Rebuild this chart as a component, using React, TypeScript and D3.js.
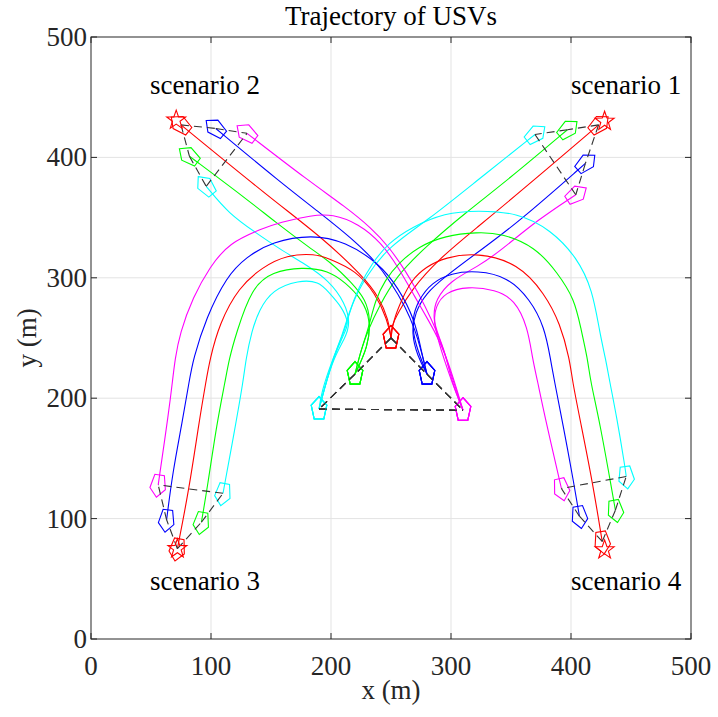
import * as d3 from "d3";

const WIDTH = 718;
const HEIGHT = 717;

const X_TICKS = [0, 100, 200, 300, 400, 500];
const Y_TICKS = [0, 100, 200, 300, 400, 500];

const COLORS: Record<string, string> = {
  red: "#ff0000",
  green: "#00ff00",
  blue: "#0000ff",
  cyan: "#00ffff",
  magenta: "#ff00ff",
};
const BOATS = ["red", "green", "blue", "cyan", "magenta"];
const FORMATION_EDGES = [
  ["red", "green"],
  ["green", "cyan"],
  ["red", "blue"],
  ["blue", "magenta"],
  ["cyan", "magenta"],
];

const SCENARIO_NAMES = ["scenario 1", "scenario 2", "scenario 3", "scenario 4"];
const TARGETS = [
  [428, 430],
  [71, 431],
  [72, 75],
  [428, 74],
];

// scenario 1 (to top right)
const s1Red = [[250, 250], [250, 259], [256, 271], [267, 290], [289, 315], [322, 342], [356, 370], [423, 427]];
const s1Green = [[220, 220], [225, 240], [231, 257], [240, 276], [254, 301], [279, 326], [312, 354], [347, 381], [397, 423]];
const s1Blue = [[280, 220], [272, 235], [267, 254], [270, 271], [279, 287], [295, 301], [322, 321], [356, 346], [412, 395]];
const s1Cyan = [[190, 191], [192, 205], [201, 232], [212, 257], [217, 278], [229, 301], [248, 326], [281, 348], [322, 381], [370, 419]];
const s1Magenta = [[310, 190], [300, 215], [289, 248], [285, 267], [287, 282], [300, 298], [322, 309], [342, 323], [372, 348], [404, 369]];

// scenario 2 (to top left)
const s2Red = [[250, 250], [248, 265], [240, 284], [227, 301], [192, 334], [151, 365], [75, 427]];
const s2Green = [[220, 220], [231, 243], [233, 265], [229, 282], [217, 296], [201, 312], [182, 325], [154, 346], [129, 366], [82, 401]];
const s2Blue = [[280, 220], [275, 240], [270, 257], [262, 276], [250, 296], [237, 314], [217, 333], [192, 353], [157, 380], [104, 424]];
const s2Cyan = [[190, 191], [201, 232], [212, 250], [216, 262], [212, 279], [198, 298], [179, 311], [157, 324], [138, 337], [115, 353], [96, 376]];
const s2Magenta = [[310, 190], [300, 220], [292, 246], [284, 265], [273, 287], [262, 306], [248, 326], [234, 341], [212, 359], [182, 380], [130, 420]];

// scenario 3 (to bottom left)
const s3Red = [[250, 250], [247, 265], [237, 287], [221, 306], [198, 316], [187, 320], [163, 319], [143, 309], [123, 292], [107, 262], [99, 232], [96, 215], [90, 180], [82, 126], [72, 75]];
const s3Green = [[220, 220], [231, 243], [233, 265], [226, 282], [212, 296], [198, 306], [176, 309], [151, 305], [134, 292], [121, 254], [115, 232], [112, 215], [105, 180], [97, 126], [92, 97]];
const s3Blue = [[280, 220], [275, 240], [270, 265], [256, 292], [240, 312], [212, 330], [184, 336], [151, 330], [129, 317], [113, 301], [96, 267], [85, 232], [82, 215], [76, 180], [68, 138], [63, 99]];
const s3Cyan = [[190, 191], [201, 232], [212, 256], [215, 262], [209, 276], [198, 288], [190, 297], [173, 298], [151, 290], [140, 273], [134, 256], [129, 232], [127, 215], [120, 175], [110, 121]];
const s3Magenta = [[310, 190], [295, 240], [281, 265], [270, 284], [256, 309], [242, 329], [223, 345], [201, 353], [184, 352], [157, 346], [143, 341], [115, 329], [99, 309], [85, 284], [74, 254], [70, 232], [68, 215], [65, 190], [56, 128]];

// scenario 4 (to bottom right)
const s4Red = [[250, 250], [252, 265], [259, 282], [267, 298], [279, 309], [295, 317], [322, 321], [356, 312], [378, 287], [391, 262], [399, 232], [401, 215], [408, 180], [418, 130], [426, 81]];
const s4Green = [[220, 220], [225, 240], [231, 257], [237, 282], [245, 298], [256, 312], [273, 326], [295, 335], [322, 338], [342, 337], [370, 326], [389, 304], [403, 282], [408, 259], [414, 232], [416, 215], [424, 180], [434, 124], [437, 107]];
const s4Blue = [[280, 220], [270, 245], [267, 265], [273, 282], [284, 296], [300, 304], [322, 306], [347, 301], [366, 282], [378, 259], [383, 232], [386, 215], [393, 180], [403, 126], [407, 102]];
const s4Cyan = [[190, 191], [201, 232], [209, 251], [215, 271], [223, 292], [234, 312], [248, 329], [267, 342], [295, 354], [322, 356], [356, 354], [383, 340], [405, 317], [418, 290], [424, 254], [429, 232], [432, 215], [438, 185], [445, 143], [446, 135]];
const s4Magenta = [[310, 190], [300, 215], [295, 240], [285, 262], [287, 276], [295, 288], [314, 293], [337, 290], [353, 282], [364, 259], [368, 232], [372, 215], [377, 190], [392, 125]];

const SCENARIO_PATHS = [
  { red: s1Red, green: s1Green, blue: s1Blue, cyan: s1Cyan, magenta: s1Magenta },
  { red: s2Red, green: s2Green, blue: s2Blue, cyan: s2Cyan, magenta: s2Magenta },
  { red: s3Red, green: s3Green, blue: s3Blue, cyan: s3Cyan, magenta: s3Magenta },
  { red: s4Red, green: s4Green, blue: s4Blue, cyan: s4Cyan, magenta: s4Magenta },
] as Record<string, number[][]>[];

const LABEL_POS = [
  [446, 453],
  [95, 453],
  [95, 41],
  [446, 41],
];

const FONT = "'Liberation Serif', 'Times New Roman', serif";

const MARGIN = { top: 37, right: 24, bottom: 78, left: 91 };

function boatShape(px: number, py: number, ang: number) {
  const fx = Math.cos(ang);
  const fy = Math.sin(ang);
  const lx = -fy;
  const ly = fx;
  const local = [
    [12.5, 0],
    [3.8, 7.8],
    [-10, 4.8],
    [-10, -4.8],
    [3.8, -7.8],
  ];
  return local.map(([f, l]) => `${px + f * fx + l * lx},${py + f * fy + l * ly}`).join(" ");
}

function starShape(px: number, py: number) {
  const pts: string[] = [];
  for (let i = 0; i < 10; i++) {
    const r = i % 2 === 0 ? 10 : 4;
    const a = -Math.PI / 2 + (i * Math.PI) / 5;
    pts.push(`${px + r * Math.cos(a)},${py + r * Math.sin(a)}`);
  }
  return pts.join(" ");
}

const App = () => {
  const x = d3.scaleLinear().domain([0, 500]).range([MARGIN.left, WIDTH - MARGIN.right - 3]);
  const y = d3.scaleLinear().domain([0, 500]).range([HEIGHT - MARGIN.bottom, MARGIN.top]);
  const x0 = x(0);
  const x1 = x(500);
  const y0 = y(0);
  const y1 = y(500);

  const line = d3
    .line<number[]>()
    .x((d) => x(d[0]))
    .y((d) => y(d[1]))
    .curve(d3.curveBasis);

  const grid = (
    <g stroke="#e3e3e3" strokeWidth={1}>
      {X_TICKS.slice(1, -1).map((t) => (
        <line key={"gx" + t} x1={x(t)} x2={x(t)} y1={y0} y2={y1} />
      ))}
      {Y_TICKS.slice(1, -1).map((t) => (
        <line key={"gy" + t} x1={x0} x2={x1} y1={y(t)} y2={y(t)} />
      ))}
    </g>
  );

  const trajectories = SCENARIO_PATHS.map((paths, si) => (
    <g key={"traj" + si} fill="none" strokeWidth={1.1}>
      {BOATS.map((b) => (
        <path key={b} d={line(paths[b]) || ""} stroke={COLORS[b]} />
      ))}
    </g>
  ));

  const formations = SCENARIO_PATHS.map((paths, si) => {
    const starts: Record<string, number[]> = {};
    const ends: Record<string, number[]> = {};
    BOATS.forEach((b) => {
      const p = paths[b];
      starts[b] = p[0];
      ends[b] = p[p.length - 1];
    });
    return (
      <g key={"form" + si}>
        {BOATS.map((b) => {
          const p = paths[b];
          const a = p[p.length - 2];
          const e = p[p.length - 1];
          const ang = Math.atan2(y(e[1]) - y(a[1]), x(e[0]) - x(a[0]));
          return (
            <g key={b} fill="none" stroke={COLORS[b]} strokeWidth={1.1}>
              <polygon points={boatShape(x(starts[b][0]), y(starts[b][1]), -Math.PI / 2)} />
              <polygon points={boatShape(x(e[0]), y(e[1]), ang)} />
            </g>
          );
        })}
        <g stroke="#333" strokeWidth={1.1} strokeDasharray="8,5">
          {FORMATION_EDGES.map(([a, b], i) => (
            <g key={i}>
              <line x1={x(starts[a][0])} y1={y(starts[a][1])} x2={x(starts[b][0])} y2={y(starts[b][1])} />
              <line x1={x(ends[a][0])} y1={y(ends[a][1])} x2={x(ends[b][0])} y2={y(ends[b][1])} />
            </g>
          ))}
        </g>
        <polygon
          points={starShape(x(TARGETS[si][0]), y(TARGETS[si][1]))}
          fill="none"
          stroke="#ff0000"
          strokeWidth={1.1}
        />
      </g>
    );
  });

  const axes = (
    <g stroke="#262626" strokeWidth={1}>
      <rect x={x0} y={y1} width={x1 - x0} height={y0 - y1} fill="none" />
      {X_TICKS.map((t) => (
        <g key={"tx" + t}>
          <line x1={x(t)} x2={x(t)} y1={y0} y2={y0 - 6} />
          <line x1={x(t)} x2={x(t)} y1={y1} y2={y1 + 6} />
        </g>
      ))}
      {Y_TICKS.map((t) => (
        <g key={"ty" + t}>
          <line x1={x0} x2={x0 + 6} y1={y(t)} y2={y(t)} />
          <line x1={x1} x2={x1 - 6} y1={y(t)} y2={y(t)} />
        </g>
      ))}
    </g>
  );

  const labels = (
    <g fontFamily={FONT} fill="#262626" fontSize={27}>
      {X_TICKS.map((t) => (
        <text key={"lx" + t} x={x(t)} y={y0 + 36} textAnchor="middle">
          {t}
        </text>
      ))}
      {Y_TICKS.map((t) => (
        <text key={"ly" + t} x={x0 - 4} y={y(t) + 9} textAnchor="end">
          {t}
        </text>
      ))}
      <text x={(x0 + x1) / 2} y={y0 + 60} textAnchor="middle">
        x (m)
      </text>
      <text transform={`translate(36,${(y0 + y1) / 2}) rotate(-90)`} textAnchor="middle">
        y (m)
      </text>
      <text x={(x0 + x1) / 2} y={25} textAnchor="middle" fill="#000">
        Trajectory of USVs
      </text>
      {SCENARIO_NAMES.map((n, i) => (
        <text key={n} x={x(LABEL_POS[i][0])} y={y(LABEL_POS[i][1])} textAnchor="middle" fill="#000">
          {n}
        </text>
      ))}
    </g>
  );

  return (
    <div style={{ position: "absolute", left: 0, top: 0 }}>
      <svg width={WIDTH} height={HEIGHT} style={{ display: "block", background: "#fff" }}>
        {grid}
        {trajectories}
        {formations}
        {axes}
        {labels}
      </svg>
    </div>
  );
};

export default App;
